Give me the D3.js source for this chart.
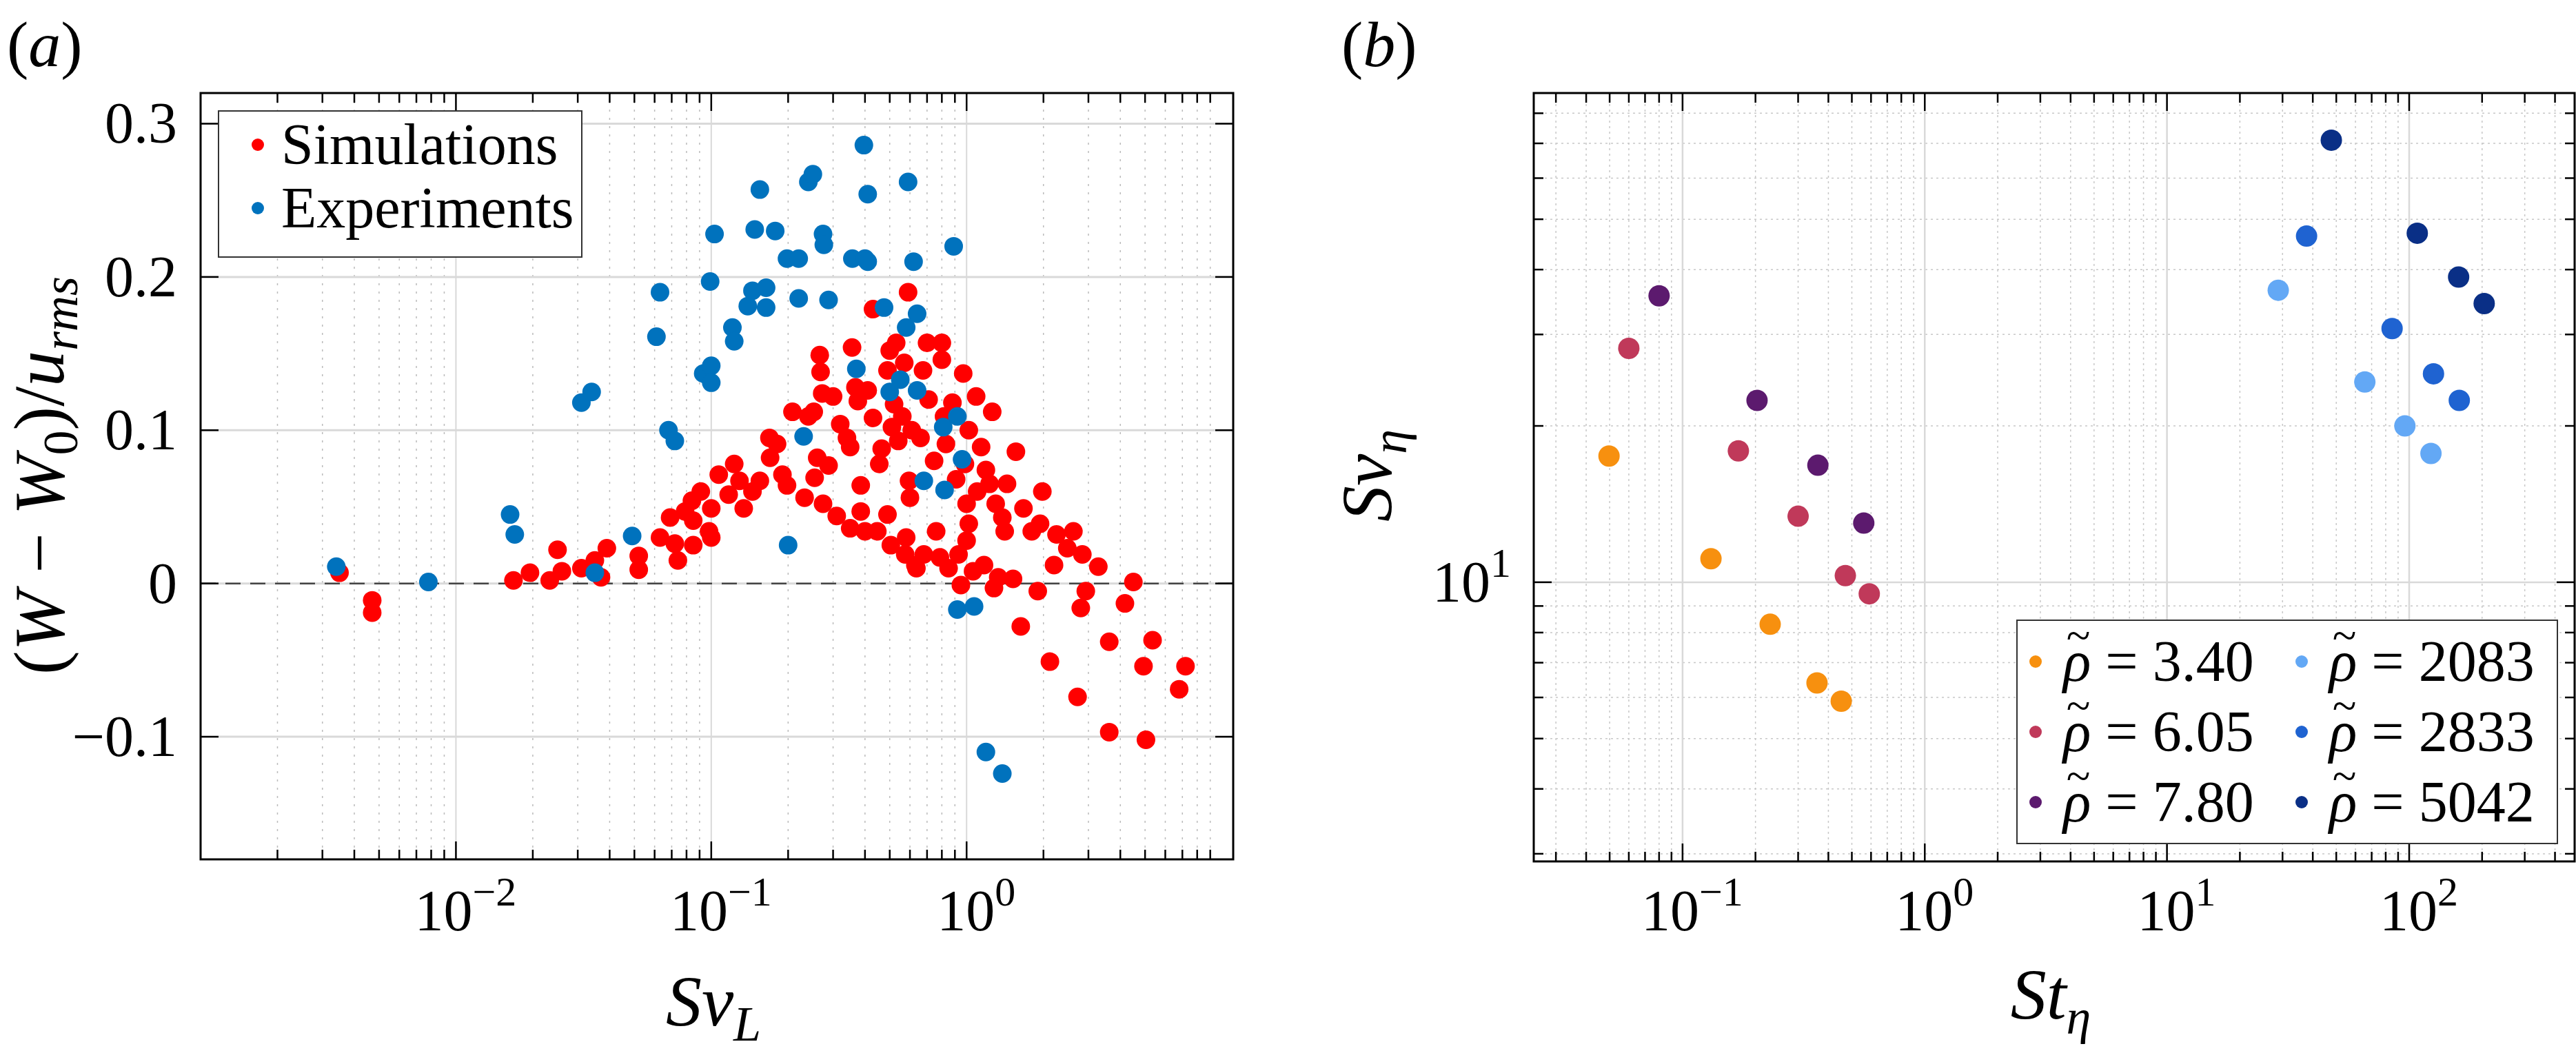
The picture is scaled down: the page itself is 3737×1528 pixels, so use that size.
<!DOCTYPE html>
<html><head><meta charset="utf-8">
<script src="https://cdn.jsdelivr.net/npm/d3@7"></script>
<style>body{margin:0;background:#fff} svg text{font-family:'Liberation Serif','DejaVu Serif','Times New Roman',Times,serif}</style>
</head><body><svg id="c" width="3737" height="1528"></svg>
<script>
// panel (a): Sv_L vs (W-W0)/u_rms
var simX = [0.0035,0.0047,0.0047,0.0168,0.0195,0.0233,0.025,0.026,0.031,0.035,0.037,0.039,0.052,0.052,0.063,0.069,0.072,0.074,0.079,0.085,0.084,0.085,0.091,0.098,0.10,0.10,0.107,0.117,0.123,0.129,0.134,0.145,0.155,0.169,0.17,0.181,0.19,0.198,0.208,0.232,0.24,0.252,0.254,0.26,0.266,0.268,0.272,0.274,0.288,0.30,0.31,0.32,0.34,0.35,0.35,0.356,0.367,0.375,0.385,0.385,0.40,0.41,0.43,0.43,0.447,0.455,0.465,0.49,0.49,0.50,0.505,0.51,0.52,0.53,0.54,0.56,0.57,0.575,0.58,0.59,0.595,0.60,0.61,0.63,0.636,0.66,0.675,0.68,0.70,0.71,0.746,0.76,0.786,0.80,0.80,0.816,0.83,0.85,0.88,0.91,0.93,0.95,0.97,0.985,1.0,1.0,1.02,1.02,1.06,1.09,1.10,1.14,1.17,1.19,1.23,1.26,1.28,1.30,1.33,1.38,1.41,1.44,1.52,1.56,1.63,1.67,1.80,1.90,1.94,1.98,2.12,2.2,2.25,2.48,2.62,2.72,2.8,2.84,2.93,3.28,3.62,3.62,4.17,4.5,4.93,5.04,5.35,6.8,7.2];
var simY = [0.007,-0.011,-0.019,0.002,0.007,0.002,0.022,0.008,0.010,0.015,0.004,0.023,0.018,0.009,0.030,0.043,0.026,0.015,0.047,0.025,0.054,0.041,0.060,0.034,0.030,0.049,0.071,0.058,0.078,0.067,0.049,0.060,0.067,0.095,0.082,0.091,0.071,0.064,0.112,0.056,0.109,0.112,0.069,0.082,0.149,0.138,0.124,0.052,0.077,0.122,0.044,0.104,0.095,0.089,0.036,0.154,0.128,0.119,0.064,0.047,0.034,0.126,0.179,0.108,0.034,0.078,0.088,0.139,0.045,0.152,0.025,0.102,0.117,0.157,0.093,0.109,0.144,0.019,0.030,0.190,0.067,0.056,0.100,0.012,0.010,0.095,0.139,0.019,0.157,0.120,0.080,0.034,0.017,0.157,0.146,0.109,0.091,0.010,0.118,0.068,0.019,-0.001,0.137,0.078,0.052,0.028,0.039,0.100,0.008,0.122,0.060,0.089,0.012,0.074,0.065,0.112,-0.003,0.052,0.004,0.043,0.034,0.065,0.003,0.086,-0.028,0.049,0.034,-0.005,0.039,0.060,-0.051,0.012,0.032,0.023,0.034,-0.074,-0.016,0.019,-0.005,0.011,-0.038,-0.097,-0.013,0.001,-0.054,-0.102,-0.037,-0.069,-0.054];
var expX = [0.0034,0.0078,0.0163,0.017,0.031,0.034,0.035,0.049,0.061,0.063,0.068,0.072,0.093,0.099,0.10,0.10,0.103,0.121,0.123,0.139,0.145,0.148,0.155,0.164,0.164,0.178,0.20,0.198,0.22,0.22,0.23,0.24,0.25,0.274,0.276,0.288,0.357,0.37,0.396,0.40,0.41,0.41,0.475,0.50,0.55,0.58,0.59,0.62,0.64,0.64,0.68,0.81,0.82,0.89,0.92,0.92,0.96,1.07,1.19,1.38];
var expY = [0.011,0.001,0.045,0.032,0.118,0.125,0.007,0.031,0.161,0.190,0.100,0.093,0.137,0.197,0.142,0.131,0.228,0.167,0.158,0.181,0.191,0.231,0.257,0.180,0.193,0.230,0.025,0.212,0.212,0.186,0.096,0.262,0.267,0.228,0.221,0.185,0.212,0.140,0.286,0.212,0.254,0.210,0.180,0.125,0.133,0.167,0.262,0.210,0.176,0.126,0.067,0.102,0.061,0.220,0.109,-0.017,0.081,-0.015,-0.110,-0.124];
var aYTicks = [0.3,0.2,0.1,0,-0.1];
var aYTickLabels = ["0.3","0.2","0.1","0","\u22120.1"];
var aXTicks = [-2,-1,0];

// panel (b): St_eta vs Sv_eta, one series per density ratio
var rhoLabels = ["3.40","6.05","7.80","2083","2833","5042"];
var rhoColors = ["#f7900f","#c0395a","#5c1a6e","#63a8f5","#1f63d1","#0a2f86"];
var stEta = [[0.0497,0.131,0.230,0.359,0.452],[0.060,0.170,0.30,0.47,0.59],[0.080,0.203,0.362,0.56],[28.8,65.6,96,123],[37.7,85,126,161],[47.7,108,160,204]];
var svEta = [[17.5,11.1,8.3,6.4,5.9],[28.2,17.9,13.4,10.3,9.5],[35.6,22.4,16.8,13.0],[36.5,24.3,20.0,17.7],[46.4,30.8,25.2,22.4],[71,47,38.7,34.4]];
var bXTicks = [-1,0,1,2];

var svg = d3.select("#c");

function sup(t, base, exp, x, y) {
  var tx = t.append("text").attr("x", x).attr("y", y).attr("text-anchor", "middle").attr("font-size", 84);
  tx.append("tspan").text(base);
  tx.append("tspan").attr("dy", -36).attr("font-size", 60).text(exp);
  return tx;
}

function logMinors(lo, hi) {
  var out = [];
  for (var e = Math.floor(Math.log10(lo)); e <= Math.ceil(Math.log10(hi)); e++)
    for (var m = 2; m <= 9; m++) { var v = m * Math.pow(10, e); if (v > lo && v < hi) out.push(v); }
  return out;
}

function frame(g, L, T, R, B) {
  g.append("rect").attr("x", L).attr("y", T).attr("width", R - L).attr("height", B - T)
    .attr("fill", "none").attr("stroke", "#000").attr("stroke-width", 3);
}

function ticksX(g, x, vals, T, B, len) {
  vals.forEach(function (v) {
    var px = x(v);
    g.append("line").attr("x1", px).attr("x2", px).attr("y1", B).attr("y2", B - len).attr("stroke", "#000").attr("stroke-width", 2.5);
    g.append("line").attr("x1", px).attr("x2", px).attr("y1", T).attr("y2", T + len).attr("stroke", "#000").attr("stroke-width", 2.5);
  });
}
function ticksY(g, y, vals, L, R, len) {
  vals.forEach(function (v) {
    var py = y(v);
    g.append("line").attr("y1", py).attr("y2", py).attr("x1", L).attr("x2", L + len).attr("stroke", "#000").attr("stroke-width", 2.5);
    g.append("line").attr("y1", py).attr("y2", py).attr("x1", R).attr("x2", R - len).attr("stroke", "#000").attr("stroke-width", 2.5);
  });
}

// ---------- panel a ----------
(function () {
  var L = 291, R = 1789, T = 135, B = 1247;
  var x = d3.scaleLog().domain([1e-3, 11.07]).range([L, R]);
  var y = d3.scaleLinear().domain([-0.18, 0.32]).range([B, T]);
  var g = svg.append("g");
  var minors = logMinors(1e-3, 11.07);
  g.selectAll(".mg").data(minors).enter().append("line")
    .attr("x1", d => x(d)).attr("x2", d => x(d)).attr("y1", T).attr("y2", B)
    .attr("stroke", "#bbb").attr("stroke-width", 1.5).attr("stroke-dasharray", "3,9");
  g.selectAll(".gx").data(aXTicks).enter().append("line")
    .attr("x1", d => x(Math.pow(10, d))).attr("x2", d => x(Math.pow(10, d))).attr("y1", T).attr("y2", B)
    .attr("stroke", "#d9d9d9").attr("stroke-width", 2);
  g.selectAll(".gy").data(aYTicks).enter().append("line")
    .attr("x1", L).attr("x2", R).attr("y1", d => y(d)).attr("y2", d => y(d))
    .attr("stroke", "#d9d9d9").attr("stroke-width", 3);
  g.append("line").attr("x1", L).attr("x2", R).attr("y1", y(0)).attr("y2", y(0))
    .attr("stroke", "#444").attr("stroke-width", 2.5).attr("stroke-dasharray", "22,14");

  g.selectAll(".sim").data(simX).enter().append("circle")
    .attr("cx", d => x(d)).attr("cy", (d, i) => y(simY[i])).attr("r", 13.5).attr("fill", "#ff0000");
  g.selectAll(".exp").data(expX).enter().append("circle")
    .attr("cx", d => x(d)).attr("cy", (d, i) => y(expY[i])).attr("r", 13.5).attr("fill", "#0072bd");

  frame(g, L, T, R, B);
  ticksX(g, x, aXTicks.map(d => Math.pow(10, d)), T, B, 26);
  ticksX(g, x, minors, T, B, 14);
  ticksY(g, y, aYTicks, L, R, 26);

  aYTicks.forEach(function (v, i) {
    g.append("text").attr("x", 257).attr("y", y(v) + 28).attr("text-anchor", "end").attr("font-size", 84).text(aYTickLabels[i]);
  });
  aXTicks.forEach(function (e) { sup(g, "10", e < 0 ? "\u2212" + (-e) : String(e), x(Math.pow(10, e)) + 14, 1350); });

  var xl = g.append("text").attr("x", 1035).attr("y", 1488).attr("text-anchor", "middle").attr("font-size", 104).attr("font-style", "italic");
  xl.append("tspan").text("Sv");
  xl.append("tspan").attr("dy", 22).attr("font-size", 72).text("L");

  var yl = g.append("text").attr("transform", "translate(92,690) rotate(-90)").attr("text-anchor", "middle").attr("font-size", 104).attr("font-style", "italic");
  yl.append("tspan").attr("font-style", "normal").text("(");
  yl.append("tspan").text("W");
  yl.append("tspan").attr("font-style", "normal").text(" \u2212 ");
  yl.append("tspan").text("W");
  yl.append("tspan").attr("dy", 20).attr("font-size", 72).attr("font-style", "normal").text("0");
  yl.append("tspan").attr("dy", -20).attr("font-style", "normal").text(")/");
  yl.append("tspan").text("u");
  yl.append("tspan").attr("dy", 20).attr("font-size", 72).text("rms");

  var lg = g.append("g");
  lg.append("rect").attr("x", 317).attr("y", 161).attr("width", 527).attr("height", 212).attr("fill", "#fff").attr("stroke", "#333").attr("stroke-width", 2);
  [["Simulations", "#ff0000", 210], ["Experiments", "#0072bd", 302]].forEach(function (d) {
    lg.append("circle").attr("cx", 374).attr("cy", d[2]).attr("r", 9).attr("fill", d[1]);
    lg.append("text").attr("x", 408).attr("y", d[2] + 28).attr("font-size", 84).text(d[0]);
  });
  var lab = g.append("text").attr("x", 10).attr("y", 96).attr("font-size", 94);
  lab.append("tspan").text("(");
  lab.append("tspan").attr("font-style", "italic").text("a");
  lab.append("tspan").text(")");
})();

// ---------- panel b ----------
(function () {
  var L = 2225, R = 3735, T = 135, B = 1250;
  var x = d3.scaleLog().domain([0.0243, 482]).range([L, R]);
  var y = d3.scaleLog().domain([2.9, 87.5]).range([B, T]);
  var g = svg.append("g");
  var mx = logMinors(0.0243, 482), my = logMinors(2.9, 87.5);
  g.selectAll(".mx").data(mx).enter().append("line")
    .attr("x1", d => x(d)).attr("x2", d => x(d)).attr("y1", T).attr("y2", B)
    .attr("stroke", "#c8c8c8").attr("stroke-width", 1.5).attr("stroke-dasharray", "3,5");
  g.selectAll(".my").data(my).enter().append("line")
    .attr("x1", L).attr("x2", R).attr("y1", d => y(d)).attr("y2", d => y(d))
    .attr("stroke", "#c8c8c8").attr("stroke-width", 1.5).attr("stroke-dasharray", "3,5");
  g.selectAll(".gx").data(bXTicks).enter().append("line")
    .attr("x1", d => x(Math.pow(10, d))).attr("x2", d => x(Math.pow(10, d))).attr("y1", T).attr("y2", B)
    .attr("stroke", "#d9d9d9").attr("stroke-width", 2.5);
  g.append("line").attr("x1", L).attr("x2", R).attr("y1", y(10)).attr("y2", y(10)).attr("stroke", "#d9d9d9").attr("stroke-width", 2.5);

  rhoLabels.forEach(function (lab, k) {
    g.selectAll(".s" + k).data(stEta[k]).enter().append("circle")
      .attr("cx", d => x(d)).attr("cy", (d, i) => y(svEta[k][i])).attr("r", 15.5).attr("fill", rhoColors[k]);
  });

  frame(g, L, T, R, B);
  ticksX(g, x, bXTicks.map(d => Math.pow(10, d)), T, B, 26);
  ticksX(g, x, mx, T, B, 14);
  ticksY(g, y, [10], L, R, 26);
  ticksY(g, y, my, L, R, 14);

  bXTicks.forEach(function (e) { sup(g, "10", e < 0 ? "\u2212" + (-e) : String(e), x(Math.pow(10, e)) + 14, 1350); });
  var yt = g.append("text").attr("x", 2192).attr("y", y(10) + 28).attr("text-anchor", "end").attr("font-size", 84);
  yt.append("tspan").text("10");
  yt.append("tspan").attr("dy", -36).attr("font-size", 60).text("1");

  var xl = g.append("text").attr("x", 2975).attr("y", 1478).attr("text-anchor", "middle").attr("font-size", 104).attr("font-style", "italic");
  xl.append("tspan").text("St");
  xl.append("tspan").attr("dy", 22).attr("font-size", 72).text("\u03b7");
  var yl = g.append("text").attr("transform", "translate(2018,690) rotate(-90)").attr("text-anchor", "middle").attr("font-size", 104).attr("font-style", "italic");
  yl.append("tspan").text("Sv");
  yl.append("tspan").attr("dy", 22).attr("font-size", 72).text("\u03b7");

  var lg = g.append("g");
  lg.append("rect").attr("x", 2926).attr("y", 900).attr("width", 784).attr("height", 324).attr("fill", "#fff").attr("stroke", "#333").attr("stroke-width", 2);
  rhoLabels.forEach(function (lab, k) {
    var cx = k < 3 ? 2953 : 3339, cy = 960 + (k % 3) * 102;
    lg.append("circle").attr("cx", cx).attr("cy", cy).attr("r", 9).attr("fill", rhoColors[k]);
    lg.append("text").attr("x", cx + 62).attr("y", cy - 16).attr("text-anchor", "middle").attr("font-size", 64).text("~");
    var t = lg.append("text").attr("x", cx + 40).attr("y", cy + 28).attr("font-size", 84);
    t.append("tspan").attr("font-style", "italic").text("\u03c1");
    t.append("tspan").text(" = " + lab);
  });
  var lab = g.append("text").attr("x", 1946).attr("y", 96).attr("font-size", 94);
  lab.append("tspan").text("(");
  lab.append("tspan").attr("font-style", "italic").text("b");
  lab.append("tspan").text(")");
})();
</script></body></html>
